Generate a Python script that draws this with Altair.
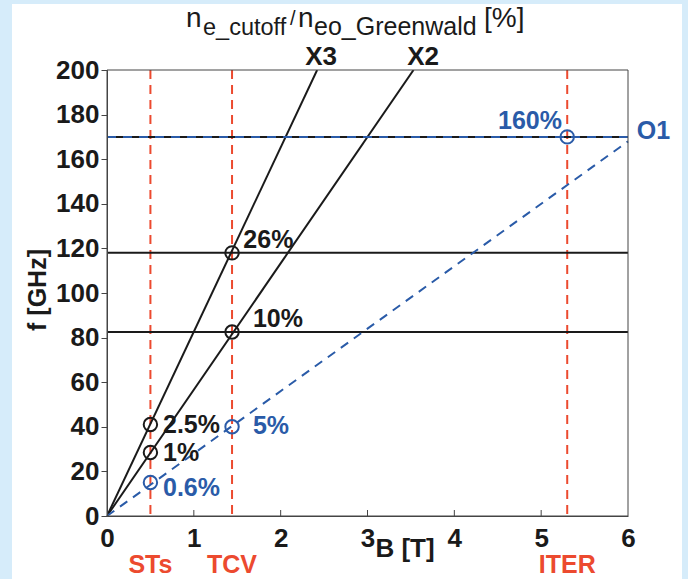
import altair as alt
import pandas as pd

# ---- data ----
x3_B = [0, 2.42]
x3_f = [0, 200]
x2_B = [0, 3.53]
x2_f = [0, 200]
o1_B = [0, 6]
o1_f = [0, 168]

h_black_f = [170, 118, 82.5]
h_blue_f = [170]
v_red_B = [0.5, 1.44, 5.3]

circ_black_B = [1.44, 1.44, 0.5, 0.5]
circ_black_f = [118, 82.5, 41, 28.5]
circ_blue_B = [1.44, 0.5, 5.3]
circ_blue_f = [40, 15, 170]

lab_black_text = ["26%", "10%", "2.5%", "1%"]
lab_black_B = [1.57, 1.68, 0.645, 0.645]
lab_black_f = [123.6, 88.5, 40.9, 28.3]
lab_blue_text = ["0.6%", "5%", "O1"]
lab_blue_B = [0.645, 1.68, 6.10]
lab_blue_f = [12.6, 40.4, 172.6]
lab_160_text = ["160%"]
lab_160_B = [5.24]
lab_160_f = [177]
mode_text = ["X3", "X2"]
mode_B = [2.465, 3.64]
mode_f = [205.8, 205.8]

machine_text = ["STs", "TCV", "ITER"]
machine_B = [0.5, 1.44, 5.3]

x_ticks = [1, 2, 3, 4, 5]

# ---- layout constants ----
W, H = 521, 446
L, T = 107, 70
BLACK = "#1a1a1a"
RED = "#ec4a2f"
BLUE = "#2a5ba8"
FONT = "Liberation Sans"

xs = alt.Scale(domain=[0, 6], nice=False)
ys = alt.Scale(domain=[0, 200], nice=False)

dummy = pd.DataFrame({"a": [0]})

bg = alt.Chart(dummy).mark_rect(fill="white", stroke=None).encode(
    x=alt.value(12 - L), x2=alt.value(682 - L),
    y=alt.value(4 - T), y2=alt.value(520)
)

def line_df(B, f, name):
    return pd.DataFrame({"B": B, "f": f, "s": name})

lines_df = pd.concat([line_df(x3_B, x3_f, "X3"), line_df(x2_B, x2_f, "X2")])

xaxis = alt.Axis(values=[0, 1, 2, 3, 4, 5, 6], format="d", title=None, ticks=False,
                 labelFont=FONT, labelFontSize=26, labelFontWeight="bold",
                 labelColor=BLACK, labelPadding=9, domainColor="#444",
                 domainWidth=1, grid=False, zindex=1, labelFlush=False)
yaxis = alt.Axis(values=list(range(0, 201, 20)), format="d", title=None, tickSize=6,
                 tickColor="#444", labelFont=FONT, labelFontSize=26,
                 labelFontWeight="bold", labelColor=BLACK, labelPadding=2,
                 domainColor="#444", domainWidth=1, grid=False, zindex=1,
                 labelFlush=False)

black_lines = alt.Chart(lines_df).mark_line(color=BLACK, strokeWidth=2, clip=True).encode(
    x=alt.X("B:Q", scale=xs, axis=xaxis),
    y=alt.Y("f:Q", scale=ys, axis=yaxis),
    detail="s:N",
)

o1_line = alt.Chart(line_df(o1_B, o1_f, "O1")).mark_line(
    color=BLUE, strokeWidth=2, strokeDash=[9, 7]).encode(
    x=alt.X("B:Q", scale=xs), y=alt.Y("f:Q", scale=ys))

hlines = alt.Chart(pd.DataFrame({"f": h_black_f})).mark_rule(
    color=BLACK, strokeWidth=2).encode(y=alt.Y("f:Q", scale=ys))
hblue = alt.Chart(pd.DataFrame({"f": h_blue_f})).mark_rule(
    color=BLUE, strokeWidth=2, strokeDash=[9, 7]).encode(y=alt.Y("f:Q", scale=ys))

vred = alt.Chart(pd.DataFrame({"B": v_red_B})).mark_rule(
    color=RED, strokeWidth=2, strokeDash=[9, 6]).encode(x=alt.X("B:Q", scale=xs))

circ_k = alt.Chart(pd.DataFrame({"B": circ_black_B, "f": circ_black_f})).mark_point(
    shape="circle", size=180, filled=False, color=BLACK, strokeWidth=2, opacity=1).encode(
    x=alt.X("B:Q", scale=xs), y=alt.Y("f:Q", scale=ys))
circ_b = alt.Chart(pd.DataFrame({"B": circ_blue_B, "f": circ_blue_f})).mark_point(
    shape="circle", size=180, filled=False, color=BLUE, strokeWidth=2, opacity=1).encode(
    x=alt.X("B:Q", scale=xs), y=alt.Y("f:Q", scale=ys))

def text_layer(texts, B, f, color, align="left", size=25):
    return alt.Chart(pd.DataFrame({"t": texts, "B": B, "f": f})).mark_text(
        align=align, baseline="middle", font=FONT, fontSize=size,
        fontWeight="bold", color=color).encode(
        x=alt.X("B:Q", scale=xs), y=alt.Y("f:Q", scale=ys), text="t:N")

t_black = text_layer(lab_black_text, lab_black_B, lab_black_f, BLACK)
t_blue = text_layer(lab_blue_text, lab_blue_B, lab_blue_f, BLUE)
t_160 = text_layer(lab_160_text, lab_160_B, lab_160_f, BLUE, align="right")
t_mode = text_layer(mode_text, mode_B, mode_f, BLACK, align="center", size=26)

t_machine = alt.Chart(pd.DataFrame({"t": machine_text, "B": machine_B})).mark_text(
    align="center", baseline="middle", font=FONT, fontSize=25, fontWeight="bold",
    color=RED).encode(x=alt.X("B:Q", scale=xs), y=alt.value(565 - T), text="t:N")

xticks = alt.Chart(pd.DataFrame({"B": x_ticks})).mark_rule(color="#444", strokeWidth=1).encode(
    x=alt.X("B:Q", scale=xs), y=alt.value(H), y2=alt.value(H - 6))

box = alt.Chart(dummy).mark_rect(fill=None, stroke="#444", strokeWidth=1).encode(
    x=alt.value(0), x2=alt.value(W), y=alt.value(0), y2=alt.value(H))

def ptext(txt, px, py, size, weight="normal", baseline="alphabetic", align="left", angle=0):
    kw = dict(align=align, baseline=baseline, font=FONT, fontSize=size,
              fontWeight=weight, color=BLACK, text=txt)
    if angle:
        kw["angle"] = angle
    return alt.Chart(dummy).mark_text(**kw).encode(
        x=alt.value(px - L), y=alt.value(py - T))

titles = [
    ptext("n", 186, 27, 28),
    ptext("e_cutoff", 203, 35, 23.5),
    ptext("/", 290, 25, 20),
    ptext("n", 298, 27, 28),
    ptext("eo_Greenwald", 314, 35, 25),
    ptext("[%]", 484, 27, 28),
    ptext("B [T]", 405, 549, 26, weight="bold", baseline="middle", align="center"),
    ptext("f [GHz]", 38, 290, 25, weight="bold", baseline="middle", align="center", angle=270),
]

chart = alt.layer(
    bg, vred, hlines, black_lines, o1_line, hblue, circ_k, circ_b,
    t_black, t_blue, t_160, t_mode, t_machine, xticks, box, *titles
).properties(
    width=W, height=H,
    autosize=alt.AutoSizeParams(type="none"),
    padding={"left": L, "top": T, "right": 688 - L - W, "bottom": 579 - T - H},
).configure(background="#d6ecfa").configure_view(stroke=None)

chart.save("out.html", embed_options={"renderer": "svg", "actions": False})
